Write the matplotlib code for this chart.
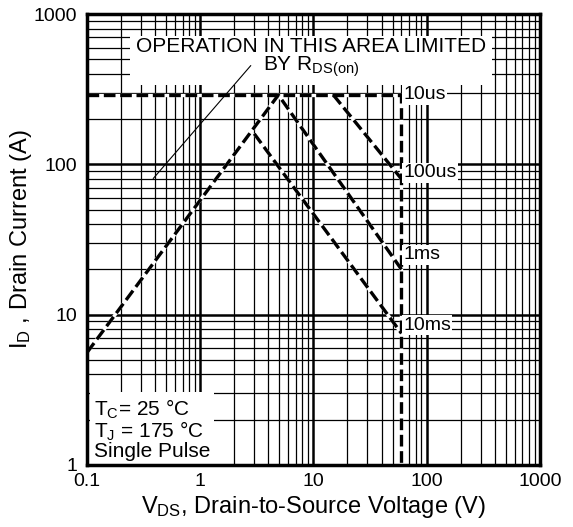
import numpy as np
import matplotlib
matplotlib.use('Agg')
import matplotlib.pyplot as plt

plt.rcParams['font.family'] = ['Liberation Sans', 'DejaVu Sans']
plt.rcParams['mathtext.fontset'] = 'custom'
plt.rcParams['mathtext.rm'] = 'Liberation Sans'
plt.rcParams['mathtext.it'] = 'Liberation Sans'

# SOA boundary curves (VDS in V, ID in A)
limit_v = [0.1, 60, 60]            # 10us: current limit then voltage limit
limit_i = [290, 290, 1]
us100_v = [15, 60]
us100_i = [290, 80]
ms1_v = [0.1, 4.9, 60]              # RDS(on) line up to the peak, then down
ms1_i = [5.6, 290, 20]
ms10_v = [3.0, 60]
ms10_i = [160, 7.5]

curve_labels = ['10us', '100us', '1ms', '10ms']
curve_label_i = [290, 88, 25, 8.5]

x_ticks = [0.1, 1, 10, 100, 1000]
y_ticks = [1, 10, 100, 1000]

fig = plt.figure(figsize=(5.73, 5.27), dpi=100)
ax = fig.add_axes([0.152, 0.118, 0.790, 0.855])
ax.set_xscale('log')
ax.set_yscale('log')
ax.set_xlim(0.1, 1000)
ax.set_ylim(1, 1000)

ax.grid(True, which='major', color='black', linewidth=1.8)
ax.grid(True, which='minor', color='black', linewidth=0.9)
ax.set_axisbelow(True)

for v, i in [(limit_v, limit_i), (us100_v, us100_i), (ms1_v, ms1_i), (ms10_v, ms10_i)]:
    ax.plot(v, i, color='white', linewidth=2.4, solid_capstyle='butt', zorder=3)
    ax.plot(v, i, color='black', linewidth=2.4, linestyle=(0, (3.5, 1.4)), zorder=4)

for lab, yi in zip(curve_labels, curve_label_i):
    ax.text(62, yi, lab, fontsize=14, ha='left', va='center', zorder=5,
            bbox=dict(facecolor='white', edgecolor='none', pad=1))

ax.text(0.495, 0.902, 'OPERATION IN THIS AREA LIMITED\n' + r'BY R$_{\mathregular{DS(on)}}$',
        transform=ax.transAxes, fontsize=15, ha='center', va='center', linespacing=0.9,
        zorder=5, bbox=dict(facecolor='white', edgecolor='none', pad=4))
ax.annotate('', xy=(0.37, 78), xytext=(2.9, 470),
            arrowprops=dict(arrowstyle='-', color='black', linewidth=0.8), zorder=5)

ax.text(0.015, 0.008, 'T$_\\mathregular{C}$= 25 °C\nT$_\\mathregular{J}$ = 175 °C\nSingle Pulse',
        transform=ax.transAxes, fontsize=15, ha='left', va='bottom', linespacing=0.95,
        zorder=5, bbox=dict(facecolor='white', edgecolor='none', pad=3))

ax.set_xticks(x_ticks)
ax.set_xticklabels([str(t) for t in x_ticks])
ax.set_yticks(y_ticks)
ax.set_yticklabels([str(t) for t in y_ticks])
ax.tick_params(which='both', length=0, labelsize=14)
ax.tick_params(axis='x', pad=6)
ax.tick_params(axis='y', pad=7)
ax.set_xlabel(r'V$_{\mathregular{DS}}$, Drain-to-Source Voltage (V)', fontsize=17, labelpad=3)
ax.set_ylabel(r'I$_{\mathregular{D}}$ , Drain Current (A)', fontsize=17, labelpad=0)
for s in ax.spines.values():
    s.set_linewidth(2.5)
    s.set_zorder(6)

fig.savefig('out.png', dpi=100)
